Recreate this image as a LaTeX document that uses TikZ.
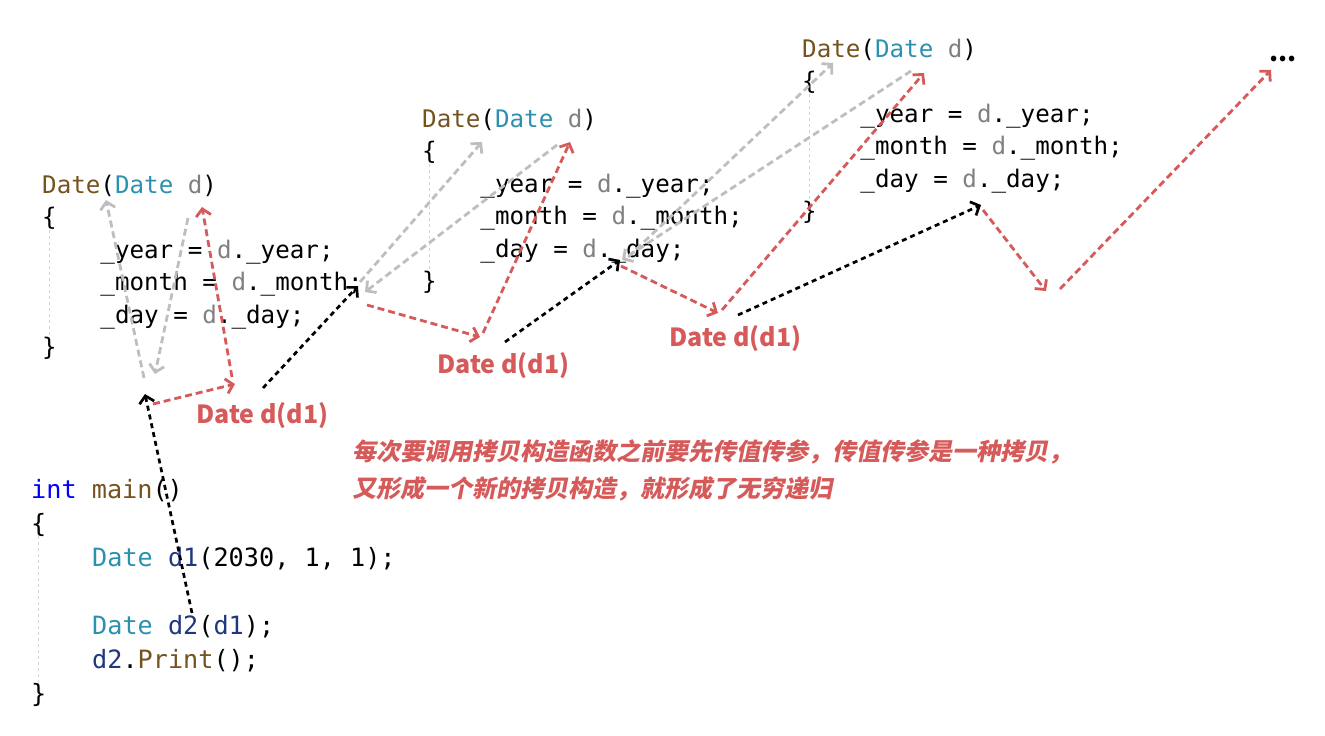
\documentclass[tikz,border=0pt]{standalone}
\usepackage{fontspec}
\setmonofont{DejaVu Sans Mono}
\newfontfamily\cjk{Noto Sans CJK SC}
\newfontfamily\cjkslant{Noto Sans CJK SC}[FakeSlant=0.2]
\usetikzlibrary{arrows.meta}
\usepackage{xcolor}
\definecolor{fnc}{HTML}{74531F}
\definecolor{typ}{HTML}{2B91AF}
\definecolor{prm}{HTML}{808080}
\definecolor{kwd}{HTML}{0000FF}
\definecolor{loc}{HTML}{1F377F}
\definecolor{rd}{HTML}{D65A5A}
\definecolor{arrgray}{HTML}{BEBEBE}
\definecolor{guidegray}{HTML}{D4D4D4}

\newcommand{\ctorhead}{\textcolor{fnc}{Date}(\textcolor{typ}{Date} \textcolor{prm}{d})}
\newcommand{\ind}{\hspace*{2.408em}}

\begin{document}
\begin{tikzpicture}[
  x=1pt, y=-1pt,
  code/.style={anchor=base west, inner sep=0pt, font=\ttfamily\fontsize{24.2}{30}\selectfont},
  mcode/.style={anchor=base west, inner sep=0pt, font=\ttfamily\fontsize{25.2}{30}\selectfont},
  lbl/.style={anchor=base west, inner sep=0pt, text=rd, font=\cjk\bfseries\fontsize{25}{30}\selectfont},
  note/.style={anchor=base west, inner sep=0pt, text=rd, font=\cjkslant\bfseries\fontsize{24}{30}\selectfont},
  guide/.style={draw=guidegray, line width=1pt, dash pattern=on 3pt off 3pt},
  blkarr/.style={-{Straight Barb[length=7pt,width=15pt]}, line width=2.7pt, dash pattern=on 5pt off 4pt},
  gryarr/.style={-{Straight Barb[length=7pt,width=15pt]}, draw=arrgray, line width=2.8pt, dash pattern=on 7pt off 4pt},
  redarr/.style={-{Straight Barb[length=7pt,width=15pt]}, draw=rd, line width=2.8pt, dash pattern=on 7pt off 4pt}
]
\useasboundingbox (0,0) rectangle (1325,736);

% first copy constructor
\node[code] (c1h) at (42,193) {\ctorhead};
\node[code] (c1o) at (42,225.5) {\{};
\node[code] (c1y) at (42,258) {\ind\_year = \textcolor{prm}{d}.\_year;};
\node[code] (c1m) at (42,290.5) {\ind\_month = \textcolor{prm}{d}.\_month;};
\node[code] (c1d) at (42,323) {\ind\_day = \textcolor{prm}{d}.\_day;};
\node[code] (c1c) at (42,355.5) {\}};
\draw[guide] (c1o.south) -- (c1c.north);

% second copy constructor
\node[code] (c2h) at (422,127) {\ctorhead};
\node[code] (c2o) at (422,159.5) {\{};
\node[code] (c2y) at (422,192) {\ind\_year = \textcolor{prm}{d}.\_year;};
\node[code] (c2m) at (422,224.5) {\ind\_month = \textcolor{prm}{d}.\_month;};
\node[code] (c2d) at (422,257) {\ind\_day = \textcolor{prm}{d}.\_day;};
\node[code] (c2c) at (422,289.5) {\}};
\draw[guide] (c2o.south) -- (c2c.north);

% third copy constructor
\node[code] (c3h) at (802,57) {\ctorhead};
\node[code] (c3o) at (802,89.5) {\{};
\node[code] (c3y) at (802,122) {\ind\_year = \textcolor{prm}{d}.\_year;};
\node[code] (c3m) at (802,154.5) {\ind\_month = \textcolor{prm}{d}.\_month;};
\node[code] (c3d) at (802,187) {\ind\_day = \textcolor{prm}{d}.\_day;};
\node[code] (c3c) at (802,219.5) {\}};
\draw[guide] (c3o.south) -- (c3c.north);

\node[anchor=base west, inner sep=0pt, font=\cjk\bfseries\fontsize{26}{30}\selectfont] (dots) at (1269,61) {...};

% main
\node[mcode] (m1) at (31,498) {\textcolor{kwd}{int} \textcolor{fnc}{main}()};
\node[mcode] (m2) at (31,532) {\{};
\node[mcode] (m3) at (92,566) {\textcolor{typ}{Date} \textcolor{loc}{d1}(2030, 1, 1);};
\node[mcode] (m4) at (92,634) {\textcolor{typ}{Date} \textcolor{loc}{d2}(\textcolor{loc}{d1});};
\node[mcode] (m5) at (92,668) {\textcolor{loc}{d2}.\textcolor{fnc}{Print}();};
\node[mcode] (m6) at (31,702) {\}};
\draw[guide] (m2.south) -- (m6.north);

% labels
\node[lbl] (l1) at (196,423) {Date d(d1)};
\node[lbl] (l2) at (437,373) {Date d(d1)};
\node[lbl] (l3) at (669,346) {Date d(d1)};
\node[note] (n1) at (352,460) {每次要调用拷贝构造函数之前要先传值传参，传值传参是一种拷贝，};
\node[note] (n2) at (352,497) {又形成一个新的拷贝构造，就形成了无穷递归};

% arrow ends
\coordinate (ka) at (192,613); \coordinate (kb) at (145,394);
\coordinate (kc) at (263,388); \coordinate (kd) at (358,286);
\coordinate (ke) at (505,342); \coordinate (kf) at (620,260);
\coordinate (kg) at (738,315); \coordinate (kh) at (981,205);
\coordinate (ga) at (144,378); \coordinate (gb) at (106,200);
\coordinate (gc) at (188,218); \coordinate (gd) at (155,374);
\coordinate (ge) at (360,282); \coordinate (gf) at (482,142);
\coordinate (gg) at (557,145); \coordinate (gh) at (365,292);
\coordinate (gi) at (628,257); \coordinate (gj) at (833,63);
\coordinate (gk) at (911,71); \coordinate (gl) at (622,260);
\coordinate (ra) at (153,404); \coordinate (rb) at (235,384);
\coordinate (rc) at (232,377); \coordinate (rd) at (202,207);
\coordinate (re) at (367,305); \coordinate (rf) at (480,337);
\coordinate (rg) at (483,333); \coordinate (rh) at (570,142);
\coordinate (ri) at (621,266); \coordinate (rj) at (718,313);
\coordinate (rk) at (722,310); \coordinate (rl) at (924,73);
\coordinate (rm) at (983,210); \coordinate (rn) at (1046,291);
\coordinate (ro) at (1060,289); \coordinate (rp) at (1271,70);

\draw[gryarr] (ga)--(gb); \draw[gryarr] (gc)--(gd); \draw[gryarr] (ge)--(gf);
\draw[gryarr] (gg)--(gh); \draw[gryarr] (gi)--(gj); \draw[gryarr] (gk)--(gl);
\draw[redarr] (ra)--(rb); \draw[redarr] (rc)--(rd); \draw[redarr] (re)--(rf);
\draw[redarr] (rg)--(rh); \draw[redarr] (ri)--(rj); \draw[redarr] (rk)--(rl);
\draw[redarr] (rm)--(rn); \draw[redarr] (ro)--(rp);
\draw[blkarr] (ka)--(kb); \draw[blkarr] (kc)--(kd); \draw[blkarr] (ke)--(kf);
\draw[blkarr] (kg)--(kh);
\end{tikzpicture}
\end{document}
